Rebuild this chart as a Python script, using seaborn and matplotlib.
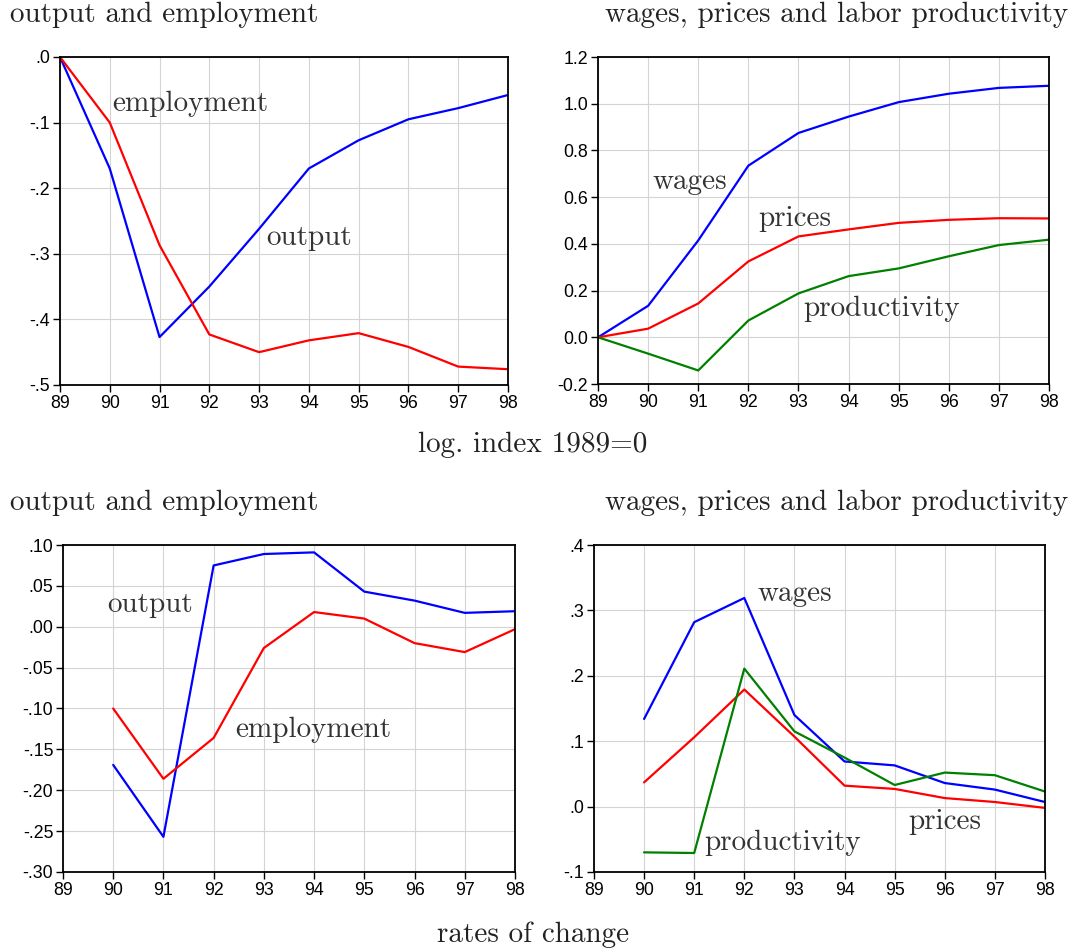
import pandas as pd
import matplotlib
matplotlib.use('Agg')
import matplotlib.pyplot as plt
import seaborn as sns

# datos: indice logaritmico 1989=0
anios = [89, 90, 91, 92, 93, 94, 95, 96, 97, 98]
output_log = [0.0, -0.170, -0.427, -0.350, -0.262, -0.170, -0.127, -0.095, -0.078, -0.058]
employment_log = [0.0, -0.100, -0.287, -0.423, -0.450, -0.432, -0.421, -0.442, -0.472, -0.476]
wages_log = [0.0, 0.135, 0.415, 0.735, 0.875, 0.945, 1.007, 1.043, 1.068, 1.077]
prices_log = [0.0, 0.037, 0.145, 0.325, 0.432, 0.462, 0.490, 0.503, 0.510, 0.509]
productivity_log = [0.0, -0.070, -0.142, 0.072, 0.188, 0.262, 0.295, 0.347, 0.395, 0.418]

# datos: tasas de cambio
anios_tasa = [90, 91, 92, 93, 94, 95, 96, 97, 98]
output_tasa = [-0.169, -0.257, 0.075, 0.089, 0.091, 0.043, 0.032, 0.017, 0.019]
employment_tasa = [-0.100, -0.186, -0.136, -0.026, 0.018, 0.010, -0.020, -0.031, -0.003]
wages_tasa = [0.134, 0.282, 0.319, 0.140, 0.069, 0.063, 0.036, 0.026, 0.007]
prices_tasa = [0.037, 0.106, 0.179, 0.107, 0.032, 0.027, 0.013, 0.007, -0.002]
productivity_tasa = [-0.070, -0.071, 0.211, 0.115, 0.075, 0.033, 0.052, 0.048, 0.023]

xticks = list(range(89, 99))
yticks_tl = [0.0, -0.1, -0.2, -0.3, -0.4, -0.5]
ylabels_tl = ['.0', '-.1', '-.2', '-.3', '-.4', '-.5']
yticks_tr = [1.2, 1.0, 0.8, 0.6, 0.4, 0.2, 0.0, -0.2]
ylabels_tr = ['1.2', '1.0', '0.8', '0.6', '0.4', '0.2', '0.0', '-0.2']
yticks_bl = [0.10, 0.05, 0.0, -0.05, -0.10, -0.15, -0.20, -0.25, -0.30]
ylabels_bl = ['.10', '.05', '.00', '-.05', '-.10', '-.15', '-.20', '-.25', '-.30']
yticks_br = [0.4, 0.3, 0.2, 0.1, 0.0, -0.1]
ylabels_br = ['.4', '.3', '.2', '.1', '.0', '-.1']

sns.set_theme(style='whitegrid')
plt.rcParams['font.family'] = ['Liberation Sans', 'DejaVu Sans']

SERIF = 'cmr10'
TXT = 21
AZUL, ROJO, VERDE = '#0000ff', '#ff0000', '#008000'

fig = plt.figure(figsize=(10.71, 9.51), dpi=100)
ax_tl = fig.add_axes([0.056, 0.5952, 0.4183, 0.3449])
ax_tr = fig.add_axes([0.5584, 0.5962, 0.4211, 0.3438])
ax_bl = fig.add_axes([0.0588, 0.0831, 0.422, 0.3438])
ax_br = fig.add_axes([0.5546, 0.0831, 0.4211, 0.3438])


def dibujar(ax, x, series, yticks, ylabels, ylim):
    for valores, color in series:
        sns.lineplot(x=x, y=valores, ax=ax, color=color, linewidth=1.6)
    ax.set_xlim(89, 98)
    ax.set_ylim(*ylim)
    ax.set_xticks(xticks)
    ax.set_xticklabels([str(a) for a in xticks])
    ax.set_yticks(yticks)
    ax.set_yticklabels(ylabels)
    ax.grid(True, color='#d4d4d4', linewidth=0.8)
    for s in ax.spines.values():
        s.set_visible(True)
        s.set_color('black')
        s.set_linewidth(1.3)
    ax.tick_params(axis='both', which='major', direction='out', length=5, width=1,
                   color='black', labelsize=12.8, pad=2, left=True, bottom=True,
                   labelcolor='black')
    ax.set_xlabel('')
    ax.set_ylabel('')
    ax.set_facecolor('white')


dibujar(ax_tl, anios, [(output_log, AZUL), (employment_log, ROJO)],
        yticks_tl, ylabels_tl, (-0.5, 0.0))
dibujar(ax_tr, anios, [(wages_log, AZUL), (prices_log, ROJO), (productivity_log, VERDE)],
        yticks_tr, ylabels_tr, (-0.2, 1.2))
dibujar(ax_bl, anios_tasa, [(output_tasa, AZUL), (employment_tasa, ROJO)],
        yticks_bl, ylabels_bl, (-0.30, 0.10))
dibujar(ax_br, anios_tasa, [(wages_tasa, AZUL), (prices_tasa, ROJO), (productivity_tasa, VERDE)],
        yticks_br, ylabels_br, (-0.1, 0.4))

# etiquetas de las series
etiquetas = [
    (ax_tl, 90.06, -0.072, 'employment'),
    (ax_tl, 93.14, -0.276, 'output'),
    (ax_tr, 90.08, 0.665, 'wages'),
    (ax_tr, 92.19, 0.507, 'prices'),
    (ax_tr, 93.09, 0.121, 'productivity'),
    (ax_bl, 89.88, 0.0266, 'output'),
    (ax_bl, 92.43, -0.126, 'employment'),
    (ax_br, 92.27, 0.325, 'wages'),
    (ax_br, 95.27, -0.0236, 'prices'),
    (ax_br, 91.20, -0.0557, 'productivity'),
]
for ax, x, y, t in etiquetas:
    ax.text(x, y, t, fontname=SERIF, fontsize=TXT, color='#333333',
            ha='left', va='center')

# titulos
fig.text(10 / 1071, 1 - 15 / 951, 'output and employment', fontname=SERIF,
         fontsize=TXT, ha='left', va='center', color='#222222')
fig.text(1068 / 1071, 1 - 15 / 951, 'wages, prices and labor productivity', fontname=SERIF,
         fontsize=TXT, ha='right', va='center', color='#222222')
fig.text(533 / 1071, 1 - 445 / 951, 'log. index 1989=0', fontname=SERIF,
         fontsize=TXT, ha='center', va='center', color='#222222')
fig.text(10 / 1071, 1 - 503 / 951, 'output and employment', fontname=SERIF,
         fontsize=TXT, ha='left', va='center', color='#222222')
fig.text(1068 / 1071, 1 - 503 / 951, 'wages, prices and labor productivity', fontname=SERIF,
         fontsize=TXT, ha='right', va='center', color='#222222')
fig.text(533 / 1071, 1 - 935 / 951, 'rates of change', fontname=SERIF,
         fontsize=TXT, ha='center', va='center', color='#222222')

fig.savefig('out.png', dpi=100, facecolor='white')
plt.close(fig)
